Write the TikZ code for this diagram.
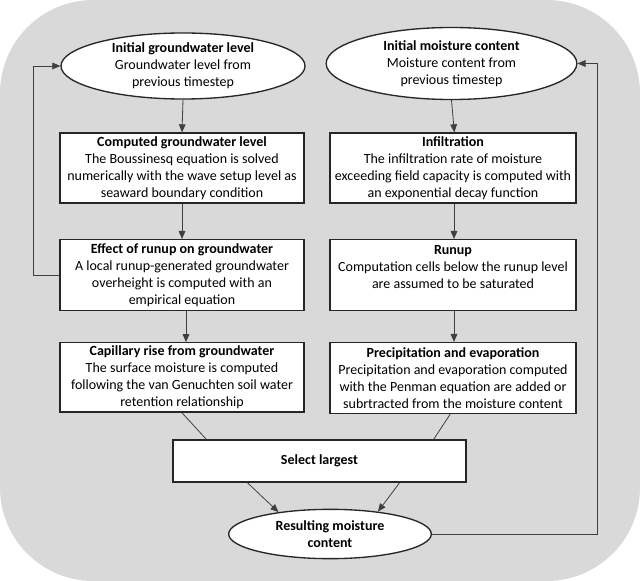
\documentclass[tikz,border=0pt]{standalone}
\usepackage{fontspec}
\setmainfont{Carlito}
\usetikzlibrary{shapes.geometric,arrows.meta,calc}
\definecolor{bggray}{HTML}{D9D9D9}
\definecolor{linegray}{HTML}{404040}
\tikzset{
  box/.style={draw=black!85, line width=1pt, fill=white, align=center, inner sep=0pt,
    font=\fontsize{10.5pt}{12.75pt}\selectfont},
  ell/.style={ellipse, draw=black!85, line width=1pt, fill=white, inner sep=0pt},
  etext/.style={align=center, inner sep=0pt, font=\fontsize{10.5pt}{12.75pt}\selectfont},
  conn/.style={draw=linegray, line width=0.6pt},
  arr/.style={conn, -{Triangle[length=6pt,width=5pt]}}
}
\begin{document}
\begin{tikzpicture}[x=0.75pt,y=-0.75pt]
\useasboundingbox (0,0) rectangle (640,581);
\fill[bggray, rounded corners=70pt] (0,0) rectangle (640,581);

% left column
\node[ell, minimum width=183pt, minimum height=49.5pt] (e1) at (183,66) {};
\node[etext] (e1t) at (e1.center) {\textbf{Initial groundwater level}\\Groundwater level from\\previous timestep};
\node[box, minimum width=183pt, minimum height=52.5pt] (cg) at (182,168)
  {\textbf{Computed groundwater level}\\The Boussinesq equation is solved\\numerically with the wave setup level as\\seaward boundary condition};
\node[box, minimum width=183pt, minimum height=53pt] (eff) at (182,275)
  {\textbf{Effect of runup on groundwater}\\A local runup-generated groundwater\\overheight is computed with an\\empirical equation};
\node[box, minimum width=183pt, minimum height=52pt] (cap) at (182,377.5)
  {\textbf{Capillary rise from groundwater}\\The surface moisture is computed\\following the van Genuchten soil water\\retention relationship};

% right column
\node[ell, minimum width=188pt, minimum height=54pt] (e2) at (451.5,63.5) {};
\node[etext] (e2t) at (e2.center) {\textbf{Initial moisture content}\\Moisture content from\\previous timestep};
\node[box, minimum width=184.5pt, minimum height=52.5pt] (inf) at (453,168)
  {\textbf{Infiltration}\\The infiltration rate of moisture\\exceeding field capacity is computed with\\an exponential decay function};
\node[box, minimum width=184.5pt, minimum height=53pt] (run) at (453,275)
  {\textbf{Runup}\\Computation cells below the runup level\\are assumed to be saturated\\\mbox{}};
\node[box, minimum width=184.5pt, minimum height=53pt] (pre) at (453,378)
  {\textbf{Precipitation and evaporation}\\Precipitation and evaporation computed\\with the Penman equation are added or\\subrtracted from the moisture content};

% bottom
\node[box, minimum width=219.75pt, minimum height=31.5pt] (sel) at (319.5,461) {\textbf{Select largest}};
\node[ell, minimum width=152pt, minimum height=37pt] (res) at (330,534) {};
\node[etext] (rest) at (res.center) {\textbf{Resulting moisture}\\\textbf{content}};

% connectors
\draw[arr] (e1.south) -- (cg.north);
\draw[arr] (cg.south) -- (eff.north);
\draw[arr] ([xshift=3pt]eff.south) -- ([xshift=3pt]cap.north);
\draw[arr] (e2.south) -- ([xshift=1pt]inf.north);
\draw[arr] ([xshift=0.75pt]inf.south) -- ([xshift=0.75pt]run.north);
\draw[arr] ([xshift=0.75pt]run.south) -- ([xshift=0.75pt]pre.north);

\draw[conn] (cap.south) -- ([xshift=25.5pt]sel.north west);
\draw[conn] ([xshift=-2pt]pre.south) -- ([xshift=-24.75pt]sel.north east);
\draw[arr] ([xshift=56.25pt]sel.south west) -- (res.157);
\draw[arr] ([xshift=-50.25pt]sel.south east) -- (res.25);

\draw[arr] (eff.west) -- ++(-26,0) |- (e1.west);
\coordinate (R) at (597,300);
\draw[arr] (res.east) -- (res.east -| R) -- (R |- e2.east) -- (e2.east);
\end{tikzpicture}
\end{document}
